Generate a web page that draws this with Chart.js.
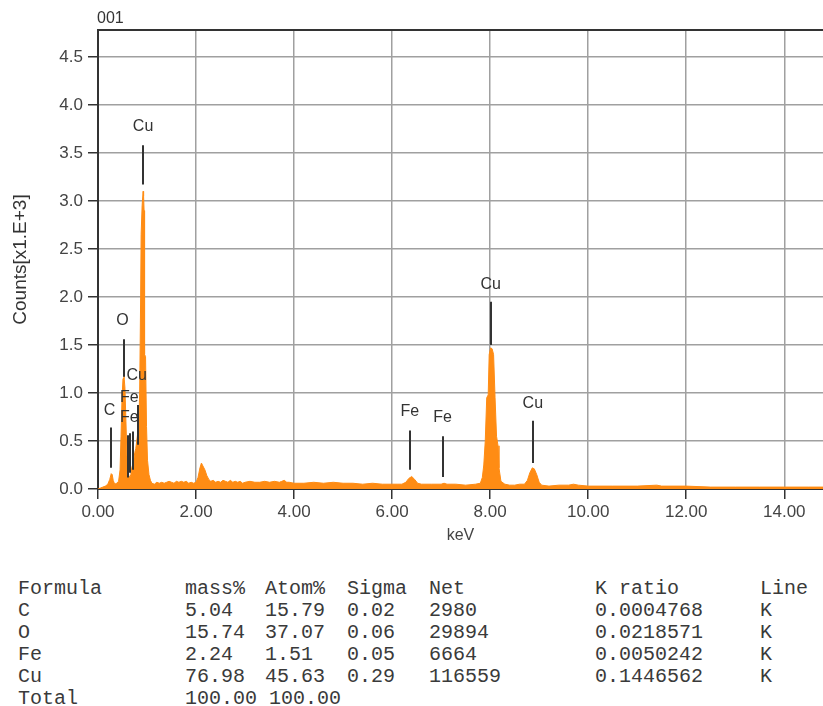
<!DOCTYPE html>
<html>
<head>
<meta charset="utf-8">
<script src="https://cdn.jsdelivr.net/npm/chart.js@4"></script>
<style>
    body { margin: 0; background: #fff; width: 823px; height: 706px; position: relative; overflow: hidden; }
    #grafico { position: absolute; left: 0; top: 0; }
    #tabela { position: absolute; left: 0; top: 578px; width: 823px; font-family: 'Liberation Mono', 'Courier New', monospace; font-size: 20px; color: #3a3a3a; }
    .linha { position: relative; height: 22px; line-height: 22px; white-space: pre; }
    .linha span { position: absolute; top: 0; }
</style>
</head>
<body>
<canvas id="grafico" width="823" height="545"></canvas>
<div id="tabela"></div>
<script>
    // espectro EDS (keV x contagens em milhares)
    let energia = [
        0.00, 0.05, 0.10, 0.15, 0.20, 0.24, 0.27, 0.29, 0.31, 0.34, 0.38, 0.42, 0.45, 0.47, 0.49,
        0.51, 0.53, 0.55, 0.57, 0.59, 0.61, 0.63, 0.65, 0.67, 0.69, 0.71, 0.73, 0.75, 0.77, 0.79,
        0.81, 0.83, 0.85, 0.87, 0.88, 0.90, 0.92, 0.93, 0.94, 0.95, 0.97, 0.99, 1.01, 1.04, 1.07,
        1.10, 1.15, 1.20, 1.25, 1.30, 1.35, 1.40, 1.45, 1.50, 1.55, 1.60, 1.65, 1.70, 1.75, 1.80,
        1.85, 1.90, 1.95, 2.00, 2.04, 2.08, 2.11, 2.14, 2.18, 2.22, 2.26, 2.30, 2.35, 2.40, 2.45,
        2.50, 2.55, 2.60, 2.65, 2.70, 2.75, 2.80, 2.85, 2.90, 2.95, 3.00, 3.10, 3.20, 3.30, 3.40,
        3.50, 3.60, 3.70, 3.75, 3.80, 3.85, 3.90, 4.00, 4.20, 4.40, 4.60, 4.80, 5.00, 5.20, 5.40,
        5.60, 5.80, 6.00, 6.10, 6.20, 6.28, 6.34, 6.40, 6.46, 6.52, 6.60, 6.80, 7.00, 7.06, 7.12,
        7.30, 7.50, 7.70, 7.80, 7.84, 7.87, 7.90, 7.93, 7.96, 7.98, 8.01, 8.04, 8.07, 8.10, 8.13,
        8.16, 8.18, 8.22, 8.30, 8.40, 8.50, 8.60, 8.70, 8.76, 8.81, 8.86, 8.90, 8.95, 9.00, 9.05,
        9.20, 9.40, 9.60, 9.70, 9.80, 10.00, 10.50, 11.00, 11.40, 11.50, 12.00, 12.50, 13.00, 13.50, 14.00,
        14.50, 14.79
    ]
    let contagens = [
        0.00, 0.01, 0.02, 0.03, 0.05, 0.10, 0.16, 0.15, 0.09, 0.05, 0.06, 0.08, 0.20, 0.55, 0.95,
        1.15, 1.18, 1.05, 0.70, 0.35, 0.18, 0.14, 0.12, 0.15, 0.22, 0.26, 0.30, 0.38, 0.42, 0.50,
        0.58, 0.62, 1.00, 2.00, 2.65, 2.95, 3.10, 3.05, 2.90, 1.40, 1.38, 0.65, 0.30, 0.15, 0.09,
        0.06, 0.05, 0.07, 0.06, 0.07, 0.06, 0.07, 0.08, 0.07, 0.06, 0.08, 0.07, 0.08, 0.07, 0.08,
        0.06, 0.07, 0.06, 0.07, 0.12, 0.22, 0.27, 0.24, 0.20, 0.14, 0.10, 0.08, 0.09, 0.07, 0.08,
        0.07, 0.09, 0.08, 0.07, 0.09, 0.07, 0.08, 0.07, 0.08, 0.06, 0.07, 0.08, 0.07, 0.07, 0.08,
        0.07, 0.08, 0.07, 0.08, 0.09, 0.07, 0.07, 0.06, 0.06, 0.07, 0.06, 0.07, 0.06, 0.06, 0.05,
        0.06, 0.05, 0.05, 0.05, 0.05, 0.07, 0.11, 0.13, 0.10, 0.06, 0.05, 0.05, 0.05, 0.06, 0.05,
        0.05, 0.04, 0.05, 0.06, 0.12, 0.25, 0.50, 0.95, 0.98, 1.40, 1.47, 1.46, 1.40, 0.95, 0.55,
        0.45, 0.22, 0.08, 0.05, 0.04, 0.04, 0.05, 0.05, 0.09, 0.17, 0.22, 0.21, 0.15, 0.07, 0.04,
        0.03, 0.04, 0.04, 0.05, 0.04, 0.03, 0.03, 0.03, 0.04, 0.03, 0.03, 0.02, 0.02, 0.02, 0.02,
        0.02, 0.02
    ]

    let xTicks = [0, 2, 4, 6, 8, 10, 12, 14]
    let yTicks = [0, 0.5, 1.0, 1.5, 2.0, 2.5, 3.0, 3.5, 4.0, 4.5]

    // linhas de identificacao dos picos
    let picoEnergia = [0.27, 0.535, 0.61, 0.66, 0.71, 0.806, 0.92, 6.36, 7.03, 8.01, 8.87]
    let picoBase    = [0.22, 1.17, 0.12, 0.17, 0.20, 0.46, 3.17, 0.20, 0.125, 1.50, 0.27]
    let picoTopo    = [0.64, 1.56, 0.56, 0.58, 0.60, 0.875, 3.58, 0.61, 0.55, 1.95, 0.71]

    let rotulos  = ['C', 'O', 'Fe', 'Fe', 'Cu', 'Cu', 'Fe', 'Fe', 'Cu', 'Cu']
    let rotuloX  = [0.235, 0.50, 0.64, 0.64, 0.79, 0.92, 6.36, 7.03, 8.01, 8.87]
    let rotuloY  = [0.82, 1.75, 0.74, 0.95, 1.18, 3.77, 0.81, 0.74, 2.125, 0.885]

    // tabela de quantificacao
    let cabecalho = ['Formula', 'mass%', 'Atom%', 'Sigma', 'Net', 'K ratio', 'Line']
    let formulas = ['C', 'O', 'Fe', 'Cu']
    let massa    = ['5.04', '15.74', '2.24', '76.98']
    let atomico  = ['15.79', '37.07', '1.51', '45.63']
    let sigma    = ['0.02', '0.06', '0.05', '0.29']
    let net      = ['2980', '29894', '6664', '116559']
    let kRatio   = ['0.0004768', '0.0218571', '0.0050242', '0.1446562']
    let linhaRaio = ['K', 'K', 'K', 'K']
    let total    = ['Total', '100.00 100.00']

    let colunas = [18, 185, 265, 347, 429, 595, 760]

    function addLinha(celulas) {
        let div = document.createElement('div')
        div.className = 'linha'
        celulas.forEach((txt, i) => {
            let s = document.createElement('span')
            s.style.left = colunas[i] + 'px'
            s.textContent = txt
            div.appendChild(s)
        })
        document.getElementById('tabela').appendChild(div)
    }
    addLinha(cabecalho)
    formulas.forEach((f, i) => addLinha([f, massa[i], atomico[i], sigma[i], net[i], kRatio[i], linhaRaio[i]]))
    addLinha(total)

    const marcadores = {
        id: 'marcadores',
        afterDatasetsDraw(chart) {
            const { ctx, chartArea, scales: { x, y } } = chart
            ctx.save()
            ctx.strokeStyle = '#333'
            ctx.lineWidth = 2
            picoEnergia.forEach((e, i) => {
                let px = Math.round(x.getPixelForValue(e))
                ctx.beginPath()
                ctx.moveTo(px, y.getPixelForValue(picoBase[i]))
                ctx.lineTo(px, y.getPixelForValue(picoTopo[i]))
                ctx.stroke()
            })
            ctx.fillStyle = '#333'
            ctx.font = '16px "Liberation Sans", Arial, sans-serif'
            ctx.textAlign = 'center'
            ctx.textBaseline = 'middle'
            rotulos.forEach((t, i) => {
                ctx.fillText(t, x.getPixelForValue(rotuloX[i]), y.getPixelForValue(rotuloY[i]))
            })
            // borda superior
            ctx.beginPath()
            ctx.moveTo(chartArea.left, chartArea.top)
            ctx.lineTo(chartArea.right, chartArea.top)
            ctx.stroke()
            ctx.textAlign = 'left'
            ctx.textBaseline = 'bottom'
            ctx.fillText('001', chartArea.left - 1, chartArea.top - 3)
            ctx.restore()
        }
    }

    let laranja = '#ff8c14'
    let fonte = '"Liberation Sans", Arial'
    let ctx = document.getElementById('grafico')
    new Chart(ctx, {
        type: 'line',
        data: {
            datasets: [{
                label: 'espectro',
                data: energia.map((e, i) => ({ x: e, y: contagens[i] })),
                borderColor: laranja,
                backgroundColor: laranja,
                borderWidth: 1,
                pointRadius: 0,
                fill: 'origin',
                tension: 0
            }]
        },
        options: {
            responsive: false,
            animation: false,
            devicePixelRatio: 1,
            layout: { padding: { top: 30, left: 0, right: 0, bottom: 0 } },
            plugins: {
                legend: { display: false },
                tooltip: { enabled: false }
            },
            scales: {
                x: {
                    type: 'linear',
                    min: 0,
                    max: 14.79,
                    afterBuildTicks: s => { s.ticks = xTicks.map(v => ({ value: v })) },
                    afterFit: s => { s.height = 56 },
                    grid: { color: '#a0a0a0', tickColor: '#333', tickLength: 10, lineWidth: 1.5 },
                    border: { color: '#333', width: 2 },
                    ticks: {
                        color: '#444',
                        font: { size: 17, family: fonte },
                        padding: 3,
                        autoSkip: false,
                        maxRotation: 0,
                        callback: value => value.toFixed(2)
                    },
                    title: {
                        display: true,
                        text: 'keV',
                        color: '#444',
                        font: { size: 16, family: fonte },
                        padding: 0
                    }
                },
                y: {
                    min: 0,
                    max: 4.78,
                    afterBuildTicks: s => { s.ticks = yTicks.map(v => ({ value: v })) },
                    afterFit: s => { s.width = 98 },
                    grid: { color: '#a0a0a0', tickColor: '#333', tickLength: 10, lineWidth: 1.5 },
                    border: { color: '#333', width: 2 },
                    ticks: {
                        color: '#444',
                        font: { size: 17, family: fonte },
                        padding: 5,
                        callback: value => value.toFixed(1)
                    },
                    title: {
                        display: true,
                        text: 'Counts[x1.E+3]',
                        color: '#333',
                        font: { size: 19, family: fonte },
                        padding: { top: 9, bottom: 0 }
                    }
                }
            }
        },
        plugins: [marcadores]
    })
</script>
</body>
</html>
